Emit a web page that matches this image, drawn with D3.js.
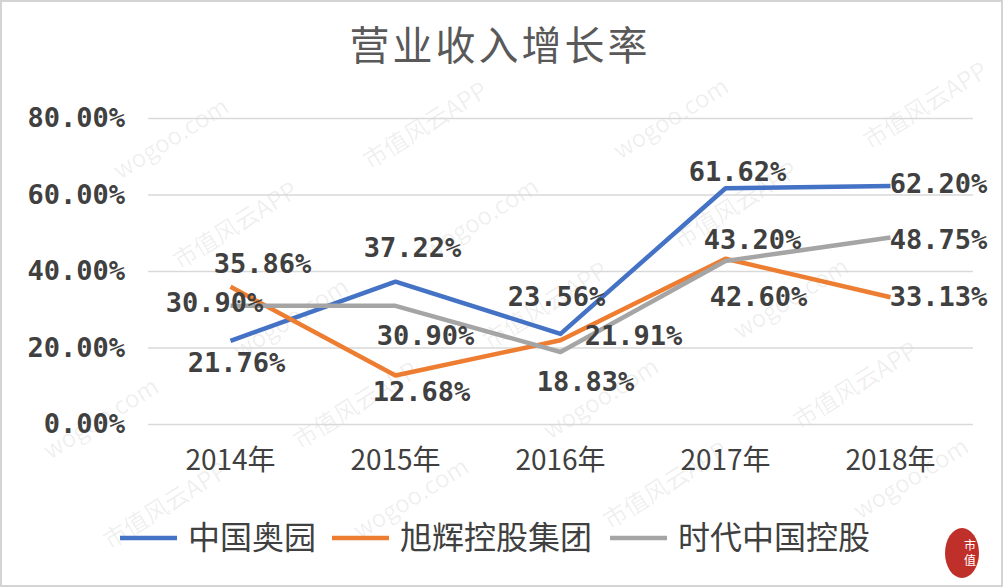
<!doctype html>
<html lang="zh">
<head>
<meta charset="utf-8">
<title>营业收入增长率</title>
<style>
  body { margin: 0; background: #fff; }
  svg { display: block; }
</style>
</head>
<body>
<div id="chart"></div>
<script src="https://d3js.org/d3.v7.min.js"></script>
<script>
// data
var years = ["2014年", "2015年", "2016年", "2017年", "2018年"];
var seriesNames = ["中国奥园", "旭辉控股集团", "时代中国控股"];
var aoyuan = [21.76, 37.22, 23.56, 61.62, 62.20];
var xuhui = [35.86, 12.68, 21.91, 43.20, 33.13];
var shidai = [30.90, 30.90, 18.83, 42.60, 48.75];
var yTicks = [0, 20, 40, 60, 80];

var colors = ["#4472c4", "#ed7d31", "#a5a5a5"];
// label nudges (px) relative to each point, same order as the series
var labelNudge = [
  [[6, 22], [17, -34], [-4, -37], [12, -16], [48, -2]],
  [[32, -23], [26, 17], [73, -4], [27, -19], [48, 0]],
  [[-16, -3], [30, 30], [25, 30], [33, 36], [48, 2]]
];

var W = 1003, H = 587;
var plot = {left: 148, right: 973, top: 118, bottom: 424};

var svg = d3.select("#chart").append("svg")
  .attr("width", W).attr("height", H);

svg.append("rect")
  .attr("x", 1).attr("y", 1).attr("width", W - 2).attr("height", H - 2)
  .attr("fill", "#fff").attr("stroke", "#d4d4d4").attr("stroke-width", 2);

var x = d3.scaleBand().domain(years).range([plot.left, plot.right]);
var y = d3.scaleLinear().domain([0, 80]).range([plot.bottom, plot.top]);
var cx = function(i){ return x(years[i]) + x.bandwidth() / 2; };

// watermark (drawn first so it sits under everything)
var wm = svg.append("g").attr("pointer-events", "none");
var words = ["wogoo.com", "市值风云APP"];
for (var r = -4; r < 10; r++) {
  for (var c = -2; c < 8; c++) {
    var px = c * 250 + r * 60;
    var py = r * 90 + c * -10;
    wm.append("text")
      .attr("transform", "translate(" + px + "," + py + ") rotate(-32)")
      .attr("font-family", "Noto Sans CJK SC")
      .attr("font-size", "24px")
      .attr("fill", "#000")
      .attr("fill-opacity", 0.07)
      .text(words[(r + c + 100) % 2]);
  }
}
// keep only the marks that sit fully inside the picture
wm.selectAll("text").each(function(){
  var b = this.getBoundingClientRect();
  if (b.left < 2 || b.top < 2 || b.right > W - 2 || b.bottom > H - 2) d3.select(this).remove();
});

// title
svg.append("text")
  .attr("x", 500).attr("y", 60)
  .attr("text-anchor", "middle")
  .attr("font-family", "Noto Sans CJK SC")
  .attr("font-size", "40px")
  .attr("letter-spacing", "3px")
  .attr("fill", "#595959")
  .text("营业收入增长率");

// y axis with gridlines
var yAxis = svg.append("g")
  .attr("transform", "translate(" + plot.left + ",0)")
  .call(d3.axisLeft(y).tickValues(yTicks)
    .tickSize(-(plot.right - plot.left))
    .tickPadding(23)
    .tickFormat(function(d){ return d3.format(".2f")(d) + "%"; }));
yAxis.select(".domain").remove();
yAxis.selectAll("line").attr("stroke", "#d9d9d9").attr("stroke-width", 1.5);
yAxis.selectAll("text")
  .attr("font-family", "DejaVu Sans Mono")
  .attr("font-weight", "bold")
  .attr("font-size", "27px")
  .attr("fill", "#404040");

// x axis
var xAxis = svg.append("g")
  .attr("transform", "translate(0," + plot.bottom + ")")
  .call(d3.axisBottom(x).tickSize(0).tickPadding(26));
xAxis.select(".domain").remove();
xAxis.selectAll("text")
  .attr("font-family", "Noto Sans CJK SC")
  .attr("font-size", "28px")
  .attr("fill", "#404040");

// lines
var all = [aoyuan, xuhui, shidai];
var line = d3.line()
  .x(function(d, i){ return cx(i); })
  .y(function(d){ return y(d); });

all.forEach(function(vals, s){
  svg.append("path")
    .datum(vals)
    .attr("d", line)
    .attr("fill", "none")
    .attr("stroke", colors[s])
    .attr("stroke-width", 4.5)
    .attr("stroke-linejoin", "round");
});

// data labels
all.forEach(function(vals, s){
  svg.append("g").selectAll("text")
    .data(vals)
    .enter()
    .append("text")
      .attr("x", function(d, i){ return cx(i) + labelNudge[s][i][0]; })
      .attr("y", function(d){ return y(d); })
      .attr("dy", function(d, i){ return labelNudge[s][i][1] + 9; })
      .attr("text-anchor", "middle")
      .attr("font-family", "DejaVu Sans Mono")
      .attr("font-weight", "bold")
      .attr("font-size", "27px")
      .attr("fill", "#404040")
      .text(function(d){ return d3.format(".2f")(d) + "%"; });
});

// legend
var legendX = [120, 332, 610];
var lg = svg.append("g").selectAll("g")
  .data(seriesNames)
  .enter()
  .append("g")
    .attr("transform", function(d, i){ return "translate(" + legendX[i] + ",538)"; });
lg.append("line")
  .attr("x1", 0).attr("x2", 57)
  .attr("stroke", function(d, i){ return colors[i]; })
  .attr("stroke-width", 4.5);
lg.append("text")
  .attr("x", 68).attr("y", 11)
  .attr("font-family", "Noto Sans CJK SC")
  .attr("font-size", "32px")
  .attr("fill", "#404040")
  .text(function(d){ return d; });

// logo
var logo = svg.append("g").attr("transform", "translate(962,553)");
logo.append("ellipse").attr("rx", 17).attr("ry", 25).attr("fill", "#c0302b");
logo.append("text").attr("x", 8).attr("y", -3).attr("text-anchor", "middle")
  .attr("font-family", "Noto Sans CJK SC").attr("font-size", "12px").attr("fill", "#fff").text("市");
logo.append("text").attr("x", 8).attr("y", 12).attr("text-anchor", "middle")
  .attr("font-family", "Noto Sans CJK SC").attr("font-size", "12px").attr("fill", "#fff").text("值");
</script>
</body>
</html>
